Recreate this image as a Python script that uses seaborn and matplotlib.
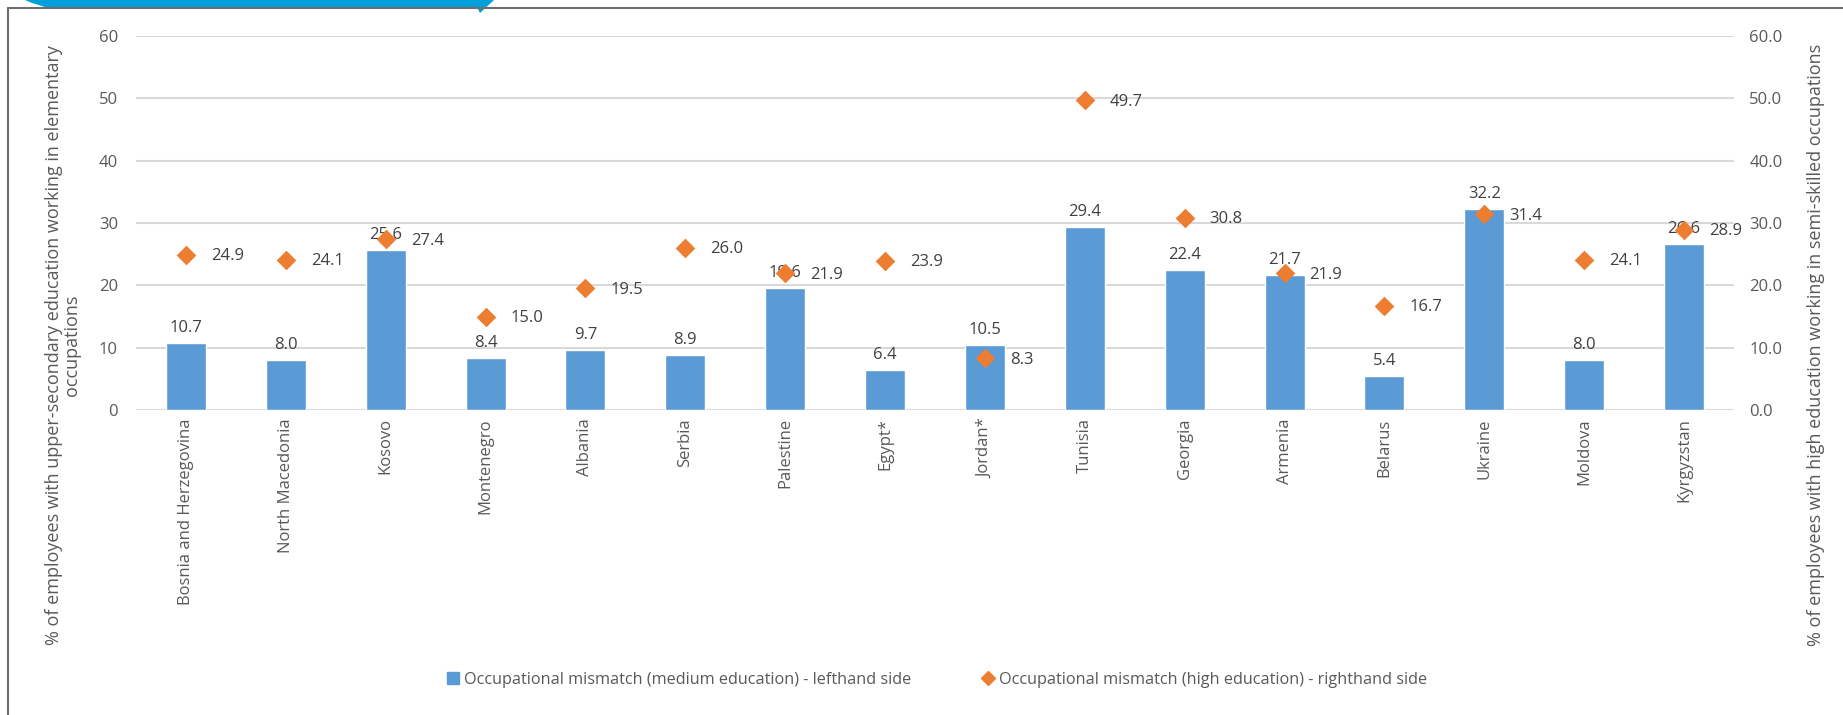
import numpy as np
import pandas as pd
import matplotlib
matplotlib.use("Agg")
import matplotlib.pyplot as plt
from matplotlib.lines import Line2D
from matplotlib.patches import Polygon
import seaborn as sns

countries = ["Bosnia and Herzegovina", "North Macedonia", "Kosovo", "Montenegro",
             "Albania", "Serbia", "Palestine", "Egypt*", "Jordan*", "Tunisia",
             "Georgia", "Armenia", "Belarus", "Ukraine", "Moldova", "Kyrgyzstan"]
medium_edu = [10.7, 8.0, 25.6, 8.4, 9.7, 8.9, 19.6, 6.4, 10.5, 29.4,
              22.4, 21.7, 5.4, 32.2, 8.0, 26.6]
high_edu = [24.9, 24.1, 27.4, 15.0, 19.5, 26.0, 21.9, 23.9, 8.3, 49.7,
            30.8, 21.9, 16.7, 31.4, 24.1, 28.9]
left_ticks = [0, 10, 20, 30, 40, 50, 60]
right_ticks = [0.0, 10.0, 20.0, 30.0, 40.0, 50.0, 60.0]

label_medium = "Occupational mismatch (medium education) - lefthand side"
label_high = "Occupational mismatch (high education) - righthand side"
ylabel_left = "% of employees with upper-secondary education working in elementary\noccupations"
ylabel_right = "% of employees with high education working in semi-skilled occupations"

BLUE = "#5B9BD5"
ORANGE = "#ED7D31"
GRID = "#D9D9D9"
TICK_TXT = "#595959"
VAL_TXT = "#404040"

sns.set_theme(style="white")
plt.rcParams["font.family"] = ["Open Sans", "DejaVu Sans"]

df = pd.DataFrame({"country": countries, "medium": medium_edu, "high": high_edu})

W, H = 1843, 715
fig = plt.figure(figsize=(W / 100, H / 100), dpi=100)
fig.patch.set_facecolor("white")

ax_l, ax_r, ax_b, ax_t = 136, 1734, 410, 36
ax = fig.add_axes([ax_l / W, 1 - ax_b / H, (ax_r - ax_l) / W, (ax_b - ax_t) / H])

sns.barplot(data=df, x="country", y="medium", color=BLUE, width=0.4,
            saturation=1, ax=ax, zorder=3)
ax.set_ylim(0, 60)
ax.set_yticks(left_ticks)
ax.set_yticklabels([f"{v:d}" for v in left_ticks])
ax.set_xlim(-0.5, len(countries) - 0.5)
ax.grid(axis="y", color=GRID, linewidth=1.5, zorder=0)
ax.set_axisbelow(True)
for s in ax.spines.values():
    s.set_visible(False)
ax.tick_params(axis="y", length=0, pad=13, labelsize=12, labelcolor=TICK_TXT)
ax.tick_params(axis="x", length=0, pad=6, labelsize=12, labelcolor=TICK_TXT,
               labelrotation=90)
ax.set_xlabel("")
ax.set_ylabel("")

for bar, v in zip(ax.patches, medium_edu):
    ax.annotate(f"{v:.1f}", (bar.get_x() + bar.get_width() / 2, bar.get_height()),
                xytext=(0, 5), textcoords="offset points", ha="center", va="bottom",
                fontsize=12, color=VAL_TXT, zorder=6)

ax2 = ax.twinx()
sns.stripplot(data=df, x="country", y="high", jitter=False, marker="D",
              color=ORANGE, size=10, linewidth=0, ax=ax2, zorder=5)
ax2.set_ylim(0, 60)
ax2.set_yticks(right_ticks)
ax2.set_yticklabels([f"{v:.1f}" for v in right_ticks])
ax2.set_xlim(-0.5, len(countries) - 0.5)
for s in ax2.spines.values():
    s.set_visible(False)
ax2.tick_params(axis="y", length=0, pad=11, labelsize=12, labelcolor=TICK_TXT)
ax2.set_ylabel("")
ax2.set_xlabel("")

for i, v in enumerate(high_edu):
    ax2.annotate(f"{v:.1f}", (i, v), xytext=(18, -1), textcoords="offset points",
                 ha="left", va="center", fontsize=12, color=VAL_TXT, zorder=6)

# axis titles
fig.text(63 / W, 1 - 345 / H, ylabel_left, rotation=90, ha="center", va="center",
         multialignment="center", fontsize=13, color=TICK_TXT, linespacing=1.05)
fig.text(1816 / W, 1 - 345 / H, ylabel_right, rotation=90, ha="center", va="center",
         fontsize=13, color=TICK_TXT)

# legend
handles = [
    Line2D([], [], marker="s", linestyle="", color=BLUE, markersize=9),
    Line2D([], [], marker="D", linestyle="", color=ORANGE, markersize=7),
]
fig.legend(handles, [label_medium, label_high], loc="center",
           bbox_to_anchor=(937 / W, 1 - 680 / H), ncol=2, frameon=False,
           fontsize=11.7, labelcolor=TICK_TXT, handlelength=0.8, handletextpad=0.3,
           columnspacing=4.3)

# chart frame and header tab
fig.add_artist(Line2D([8 / W, 8 / W], [0, 1 - 8 / H], transform=fig.transFigure,
                      color="#6E6E6E", linewidth=1.5))
fig.add_artist(Line2D([8 / W, 1], [1 - 8 / H, 1 - 8 / H], transform=fig.transFigure,
                      color="#6E6E6E", linewidth=1.5))
tab_px = [(25, 0), (32, 3), (45, 7), (60, 9), (478, 9), (480, 13), (494, 0)]
tab = Polygon([(x / W, 1 - y / H) for x, y in tab_px], closed=True,
              transform=fig.transFigure, facecolor="#00A0DC", edgecolor="none")
fig.add_artist(tab)

fig.savefig("out.png", dpi=100, facecolor="white")
